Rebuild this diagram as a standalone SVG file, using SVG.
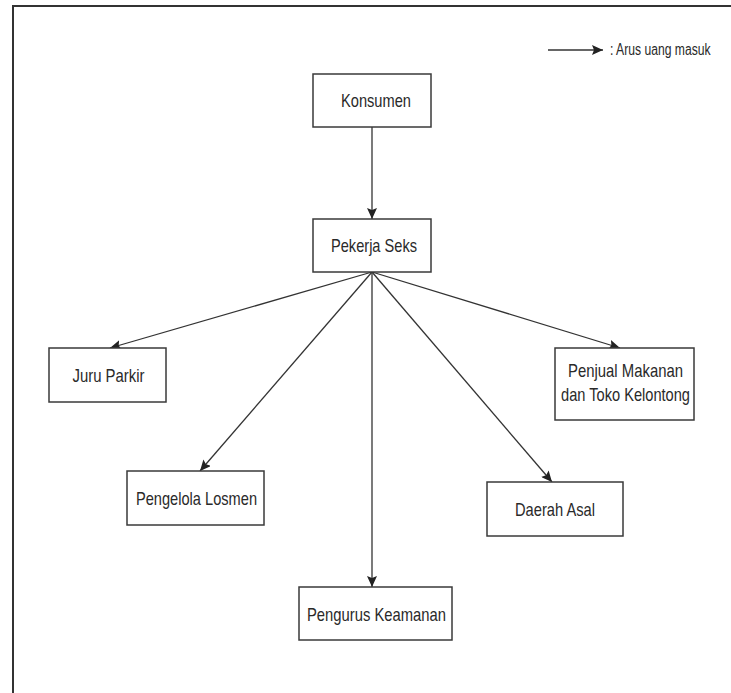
<svg xmlns="http://www.w3.org/2000/svg" width="731" height="693" viewBox="0 0 731 693">
<style>
.box{fill:#ffffff;stroke:#3a3a3a;stroke-width:1.5}
.lbl{font-family:"Liberation Sans Narrow","Liberation Sans",Arial,sans-serif;font-size:19px;fill:#2a2a2a;text-anchor:middle}
.edge{stroke:#333;stroke-width:1.3;fill:none;marker-end:url(#ah)}
.frame{stroke:#333;stroke-width:2;fill:none}
</style>
<defs>
<marker id="ah" markerUnits="userSpaceOnUse" markerWidth="12" markerHeight="10" refX="11" refY="5" orient="auto">
<path d="M0,0 L11,5 L0,10 L2,5 z" fill="#222"/>
</marker>
</defs>
<rect x="0" y="0" width="731" height="693" fill="#ffffff"/>
<path class="frame" d="M13,693 L13,6 L731,6"/>
<g id="legend">
<line class="edge" x1="548" y1="50" x2="603" y2="50"/>
<text transform="translate(610,55) scale(0.76,1)" x="0" y="0" font-family="'Liberation Sans',Arial,sans-serif" font-size="16" fill="#2a2a2a">: Arus uang masuk</text>
</g>
<g id="connectors">
<line class="edge" x1="372" y1="127" x2="372" y2="219"/>
<line class="edge" x1="372" y1="272" x2="110" y2="348"/>
<line class="edge" x1="372" y1="272" x2="200" y2="471"/>
<line class="edge" x1="372" y1="272" x2="372" y2="587"/>
<line class="edge" x1="372" y1="272" x2="552" y2="482"/>
<line class="edge" x1="372" y1="272" x2="620" y2="348"/>
</g>
<g id="konsumen">
<rect class="box" x="313" y="74" width="118" height="53"/>
<text class="lbl" x="376" y="107" textLength="70" lengthAdjust="spacingAndGlyphs">Konsumen</text>
</g>
<g id="pekerja-seks">
<rect class="box" x="313" y="219" width="118" height="53"/>
<text class="lbl" x="374" y="252" textLength="86" lengthAdjust="spacingAndGlyphs">Pekerja Seks</text>
</g>
<g id="juru-parkir">
<rect class="box" x="49" y="348" width="117" height="54"/>
<text class="lbl" x="108.5" y="382" textLength="72" lengthAdjust="spacingAndGlyphs">Juru Parkir</text>
</g>
<g id="pengelola-losmen">
<rect class="box" x="127" y="471" width="137" height="54"/>
<text class="lbl" x="196.5" y="505" textLength="121" lengthAdjust="spacingAndGlyphs">Pengelola Losmen</text>
</g>
<g id="pengurus-keamanan">
<rect class="box" x="299" y="587" width="153" height="53"/>
<text class="lbl" x="376.5" y="621" textLength="139" lengthAdjust="spacingAndGlyphs">Pengurus Keamanan</text>
</g>
<g id="daerah-asal">
<rect class="box" x="487" y="482" width="136" height="54"/>
<text class="lbl" x="555" y="516" textLength="80" lengthAdjust="spacingAndGlyphs">Daerah Asal</text>
</g>
<g id="penjual-makanan">
<rect class="box" x="555" y="348" width="139" height="72"/>
<text class="lbl" x="625.5" y="377" textLength="115" lengthAdjust="spacingAndGlyphs">Penjual Makanan</text>
<text class="lbl" x="625.5" y="401" textLength="129" lengthAdjust="spacingAndGlyphs">dan Toko Kelontong</text>
</g>
</svg>
